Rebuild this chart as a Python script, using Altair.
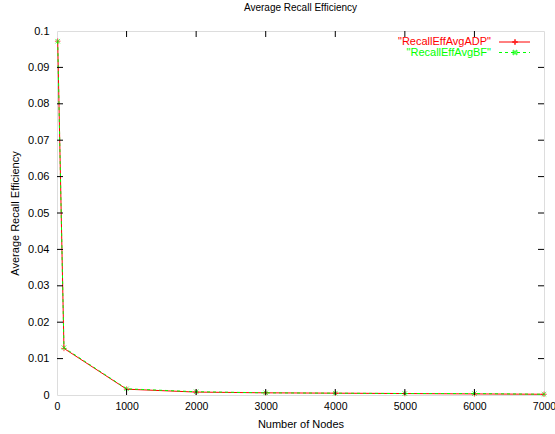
import altair as alt
import pandas as pd

nodes = [10, 100, 1000, 2000, 3000, 4000, 5000, 6000, 7000]
adp = [0.0972, 0.0128, 0.0016, 0.0008, 0.0006, 0.0005, 0.0004, 0.0003, 0.0002]
bf = [0.0972, 0.0130, 0.0017, 0.0009, 0.0006, 0.0005, 0.0004, 0.0004, 0.0002]

y_ticks = [round(i * 0.01, 2) for i in range(11)]
x_ticks = [0, 1000, 2000, 3000, 4000, 5000, 6000, 7000]

W, H = 487, 364
FONT = "Liberation Sans"

df = pd.DataFrame({"nodes": nodes, "adp": adp, "bf": bf})
one = pd.DataFrame({"k": [0]})
xs = alt.Scale(domain=[0, 7000], nice=False)
ys = alt.Scale(domain=[0, 0.1], nice=False)

axis_x = alt.Axis(values=x_ticks, ticks=False, labelPadding=6, domain=False, grid=False,
                  labelFont=FONT, labelFontSize=10.5, labelColor="black",
                  labelOverlap=False, labelBound=False, labelFlush=False,
                  titleFont=FONT, titleFontSize=11, titleFontWeight="normal",
                  titlePadding=7, format="d")
axis_y = alt.Axis(values=y_ticks, ticks=False, labelPadding=8, domain=False, grid=False,
                  labelFont=FONT, labelFontSize=11, labelColor="black",
                  labelOverlap=False, labelBound=False, labelFlush=False,
                  labelExpr="datum.value == 0 ? '0' : format(datum.value, '.2~f')",
                  titleFont=FONT, titleFontSize=11, titleFontWeight="normal",
                  titlePadding=7)


def X(field):
    return alt.X(field, type="quantitative", scale=xs, axis=axis_x, title="Number of Nodes")


def Y(field):
    return alt.Y(field, type="quantitative", scale=ys, axis=axis_y, title="Average Recall Efficiency")


plus_shape = "M-1,0L1,0M0,-1L0,1"
x_shape = "M-1,-1L1,1M-1,1L1,-1"

base = alt.Chart(df)
red_line = base.mark_line(color="#ff0000", strokeWidth=1).encode(x=X("nodes"), y=Y("adp"))
red_pts = base.mark_point(shape=plus_shape, color="#ff0000", filled=False, size=30,
                          strokeWidth=1).encode(x=X("nodes"), y=Y("adp"))
green_line = base.mark_line(color="#00ff00", strokeWidth=1, strokeDash=[3, 3]).encode(
    x=X("nodes"), y=Y("bf"))
green_pts = base.mark_point(shape=x_shape, color="#00ff00", filled=False, size=20,
                            strokeWidth=1).encode(x=X("nodes"), y=Y("bf"))

ydf = pd.DataFrame({"v": y_ticks[1:-1]})
xdf = pd.DataFrame({"v": x_ticks[1:-1]})
tl = 6
yt_left = alt.Chart(ydf).mark_rule(color="black").encode(
    y=Y("v"), x=alt.value(0), x2=alt.value(tl))
yt_right = alt.Chart(ydf).mark_rule(color="black").encode(
    y=Y("v"), x=alt.value(W - tl), x2=alt.value(W))
xt_bot = alt.Chart(xdf).mark_rule(color="black").encode(
    x=X("v"), y=alt.value(H - tl), y2=alt.value(H))
xt_top = alt.Chart(xdf).mark_rule(color="black").encode(
    x=X("v"), y=alt.value(0), y2=alt.value(tl))

leg = alt.Chart(one)
leg_txt_r = leg.mark_text(align="right", baseline="middle", font=FONT, fontSize=11,
                          color="#ff0000").encode(
    x=alt.value(434), y=alt.value(11), text=alt.value('"RecallEffAvgADP"'))
leg_txt_g = leg.mark_text(align="right", baseline="middle", font=FONT, fontSize=11,
                          color="#00ff00").encode(
    x=alt.value(434), y=alt.value(21.5), text=alt.value('"RecallEffAvgBF"'))
leg_line_r = leg.mark_rule(color="#ff0000").encode(
    x=alt.value(442), x2=alt.value(473), y=alt.value(11))
leg_line_g = leg.mark_rule(color="#00ff00", strokeDash=[3, 3]).encode(
    x=alt.value(442), x2=alt.value(473), y=alt.value(21.5))
leg_pt_r = leg.mark_point(shape=plus_shape, color="#ff0000", filled=False, size=30).encode(
    x=alt.value(458), y=alt.value(11))
leg_pt_g = leg.mark_point(shape=x_shape, color="#00ff00", filled=False, size=20).encode(
    x=alt.value(458), y=alt.value(21.5))

chart = alt.layer(
    red_line, red_pts, green_line, green_pts,
    yt_left, yt_right, xt_bot, xt_top,
    leg_txt_r, leg_txt_g, leg_line_r, leg_line_g, leg_pt_r, leg_pt_g,
).properties(
    width=W, height=H,
    title=alt.TitleParams("Average Recall Efficiency", font=FONT, fontSize=10,
                          fontWeight="normal", anchor="middle", offset=12),
    autosize=alt.AutoSizeParams(type="none"),
    padding={"left": 57, "top": 31, "right": 11, "bottom": 39},
).configure_view(stroke="black", strokeWidth=1.5).configure(background="white")

chart.save("out.html", embed_options={"renderer": "svg", "actions": False})
